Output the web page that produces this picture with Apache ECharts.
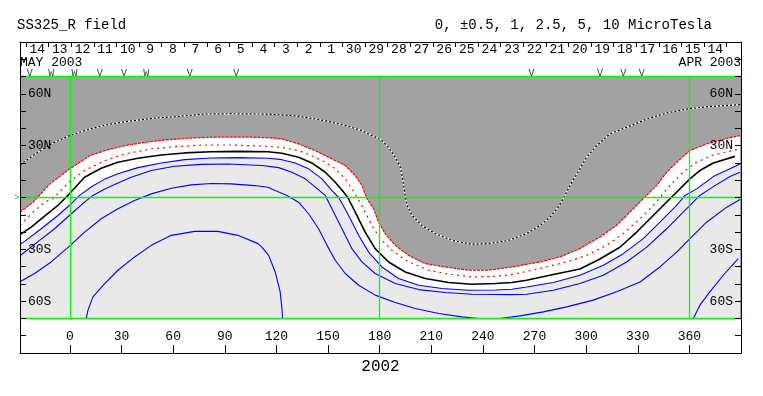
<!DOCTYPE html>
<html><head><meta charset="utf-8">
<script src="https://cdn.jsdelivr.net/npm/echarts@6/dist/echarts.min.js"></script>
<style>html,body{margin:0;padding:0;background:#fff}#c{width:763px;height:396px}</style>
</head><body><div id="c"></div>
<script>
const FONT = '"Liberation Mono", "DejaVu Sans Mono", monospace';

// contour lines, [longitude, latitude]
const cNeg25 = [[-29,18.9],[-21.5,24.2],[-10.9,31.0],[-0.2,35.8],[8.5,38.7],[20.2,41.9],[31.8,43.8],[47.3,45.8],[62.8,46.9],[78.3,48.3],[93.7,48.5],[111.6,48.3],[121.3,47.9],[130.9,47.3],[140.6,45.8],[150.4,44.0],[162.0,41.1],[169.7,38.7],[175.5,35.8],[180.3,33.9],[185.2,29.0],[189.1,23.3],[192.0,17.5],[193.4,10.8],[194.5,3.1],[195.9,-4.6],[198.8,-10.4],[204.6,-16.2],[212.3,-20.9],[222.0,-24.8],[233.6,-27.1],[243.3,-26.7],[255.0,-24.8],[265.4,-20.9],[273.2,-16.2],[279.0,-11.4],[283.8,-5.6],[287.7,1.2],[290.6,6.9],[296.4,16.6],[300.3,23.3],[306.1,30.0],[313.8,36.8],[323.5,40.6],[335.2,45.4],[346.8,48.9],[358.4,51.2],[370.0,52.5],[389.4,53.7]];
const cNeg1 = [[-29,-8.5],[-21.3,-2.7],[-11.6,7.9],[0,16.6],[11.6,24.2],[20.2,27.1],[31.8,30.0],[43.4,31.9],[55.0,33.3],[70.5,34.4],[86.0,35.0],[101.5,35.0],[115.1,34.6],[123.2,33.9],[132.9,31.0],[142.6,27.1],[152.3,22.3],[160.0,18.5],[165.8,12.7],[169.7,6.9],[172.6,-0.7],[176.5,-6.5],[179.4,-14.3],[183.2,-20.9],[189.1,-27.7],[196.8,-33.5],[206.5,-38.3],[218.1,-40.2],[231.7,-42.1],[243.3,-42.1],[256.9,-40.2],[273.2,-37.3],[284.8,-34.4],[296.4,-29.6],[308.0,-22.9],[317.7,-16.2],[325.5,-8.5],[333.2,-0.7],[341.0,6.9],[346.8,14.6],[352.6,20.4],[360.3,27.1],[370.0,31.0],[381.7,34.2],[389.4,35.8]];
const cNeg05 = [[-29,-16.2],[-22.5,-9.4],[-14.7,-2.7],[-9.9,-0.7],[-0.2,9.2],[8.5,15.6],[20.2,21.3],[31.8,25.2],[47.3,28.1],[62.8,29.6],[78.3,30.4],[93.7,30.4],[115.1,29.6],[123.2,29.0],[132.9,27.1],[140.6,24.2],[148.4,20.4],[154.2,16.6],[160.0,10.8],[163.9,5.0],[167.0,0],[171.6,-8.5],[175.5,-16.2],[180.3,-23.8],[187.1,-30.6],[196.8,-37.3],[208.5,-42.1],[220.1,-44.4],[233.6,-46.0],[247.2,-45.6],[256.9,-44.6],[273.2,-41.1],[288.7,-37.3],[300.3,-33.5],[311.9,-27.7],[321.6,-20.9],[331.3,-12.3],[339.0,-4.6],[348.7,6.9],[356.4,14.6],[364.2,20.4],[373.9,24.6],[389.4,28.1]];
const cZero = [[-29,-21.5],[-22.5,-17.1],[-14.7,-10.8],[-7.0,-4.6],[-1.2,1.2],[8.5,11.7],[18.2,16.9],[27.9,20.4],[39.5,22.7],[53.1,24.6],[66.7,25.8],[82.1,26.5],[97.6,26.7],[115.1,26.5],[123.2,25.6],[132.9,23.3],[140.6,20.0],[148.4,14.6],[154.2,8.8],[159.1,3.1],[161.5,0],[165.8,-8.5],[171.6,-20.0],[177.4,-29.6],[185.2,-37.3],[194.9,-43.1],[206.5,-46.9],[220.1,-49.2],[233.6,-50.2],[247.2,-49.8],[256.9,-49.2],[265.4,-47.9],[280.9,-44.6],[296.4,-41.4],[308.0,-35.6],[319.6,-28.8],[329.4,-20.0],[337.1,-12.3],[344.8,-4.6],[354.5,5.0],[360.3,10.8],[366.1,15.6],[373.9,20.0],[386.5,23.8]];
const cPos05 = [[-29,-27.1],[-26.3,-25.4],[-16.7,-18.1],[-7.0,-10.4],[0.8,-3.6],[5.6,1.2],[13.0,6.5],[20.0,10.5],[27.9,13.8],[39.5,17.3],[53.1,20.0],[66.7,21.9],[82.1,22.9],[97.6,23.1],[115.1,22.7],[123.2,21.9],[130.9,20.0],[138.7,16.6],[146.5,10.8],[152.3,4.0],[156.2,0],[161.0,-8.5],[167.8,-21.9],[173.6,-31.6],[181.3,-40.2],[191.0,-46.9],[202.7,-50.8],[216.2,-52.7],[231.7,-53.7],[247.2,-53.5],[256.9,-53.1],[265.4,-51.8],[280.9,-49.2],[296.4,-45.0],[310.0,-39.2],[321.6,-32.5],[333.2,-23.8],[342.9,-14.3],[352.6,-4.6],[357.4,1.2],[364.2,5.0],[373.9,12.1],[383.6,16.7],[389.4,19.4]];
const cPos1 = [[-29,-33.7],[-17.6,-24.8],[-8.9,-18.1],[0.8,-9.4],[8.5,-2.7],[13.4,1.2],[20.0,4.8],[26.0,7.5],[35.6,11.7],[47.3,15.6],[60.9,18.1],[76.3,19.2],[91.8,19.4],[111.6,18.5],[121.3,17.3],[129.0,14.6],[136.8,10.8],[142.6,6.0],[148.4,1.2],[152.3,-6.5],[158.1,-18.1],[163.9,-29.6],[169.7,-37.3],[177.4,-44.0],[189.1,-49.8],[202.7,-53.3],[218.1,-55.0],[233.6,-56.0],[247.2,-56.1],[256.9,-56.2],[265.4,-56.0],[280.9,-53.7],[296.4,-49.8],[310.0,-45.0],[323.5,-37.3],[335.2,-28.7],[346.8,-18.1],[356.4,-8.5],[366.1,1.2],[373.9,6.3],[383.6,12.1],[389.4,14.6]];
const cPos25 = [[-29,-48.8],[-20.5,-44.0],[-10.9,-37.3],[-0.2,-28.1],[8.5,-20.0],[18.2,-12.3],[27.9,-6.5],[37.6,-1.7],[47.3,2.1],[58.9,5.4],[70.5,7.3],[82.1,8.1],[93.7,7.9],[107.3,6.9],[115.1,5.9],[119.3,4.0],[126.1,1.2],[132.9,-2.7],[138.7,-9.4],[144.5,-18.1],[149.4,-27.7],[154.2,-36.3],[160.0,-44.0],[167.8,-50.8],[177.4,-56.5],[189.1,-60.8],[200.7,-64.2],[214.3,-67.1],[227.8,-69.1],[237.5,-70],[249.9,-70],[261.5,-68.5],[275.1,-66.2],[288.7,-63.3],[304.1,-59.4],[317.7,-54.6],[331.3,-48.9],[342.9,-40.2],[352.6,-31.6],[360.3,-23.8],[370.0,-14.3],[381.7,-5.6],[389.4,-1.2]];
const cPos5a = [[9.5,-70],[10.5,-65.2],[13.4,-57.5],[20.2,-49.8],[27.9,-42.1],[37.6,-34.4],[47.3,-27.7],[58.9,-21.9],[72.5,-19.6],[86.0,-19.6],[97.6,-21.9],[109.3,-26.7],[111.6,-28.7],[115.5,-33.5],[119.3,-43.1],[122.2,-54.6],[123.2,-64.2],[123.6,-70]];
const cPos5b = [[362.3,-70],[366.1,-62.3],[371.9,-54.6],[379.7,-45.0],[388.4,-35.4]];

// axes
const xTicks = [0,30,60,90,120,150,180,210,240,270,300,330,360];
const yTickLabels = {'60':'60N','30':'30N','-30':'30S','-60':'60S'};
const dayTickLon = [-25.5,-12.4,0.7,13.9,27.0,40.2,53.3,66.4,79.6,92.7,105.8,119.0,132.1,145.2,158.4,171.5,184.7,197.8,210.9,224.1,237.2,250.3,263.5,276.6,289.7,302.9,316.0,329.2,342.3,355.4,368.6,381.7];
const dayLabelLon = [-19.0,-5.9,7.3,20.4,33.6,46.7,59.8,73.0,86.1,99.2,112.4,125.5,138.7,151.8,164.9,178.1,191.2,204.3,217.5,230.6,243.8,256.9,270.0,283.2,296.3,309.4,322.6,335.7,348.9,362.0,375.1];
const dayLabels = ['14','13','12','11','10','9','8','7','6','5','4','3','2','1','30','29','28','27','26','25','24','23','22','21','20','19','18','17','16','15','14'];
const markLon = [-23.4,-10.9,2.7,17.3,31.4,44.3,69.6,96.7,268.3,308.0,321.6,332.3];
const markType = ['V','W','W','V','V','W','V','V','V','V','V','V'];
const gridLon = [0,180,360];
const gridLat = [70,0,-70];

const X0 = -29, X1 = 390, LATMIN = -70, LATMAX = 70;

function contour(data, color, width, type, z) {
  return {type:'line', data, symbol:'none', silent:true, z: z||4, animation:false,
    lineStyle:{color, width, type: type||'solid'}};
}
function fill(data, color) {
  return {type:'line', data, symbol:'none', silent:true, z:2, animation:false,
    lineStyle:{width:0, opacity:0}, areaStyle:{color, opacity:1, origin:LATMIN}};
}

const greenLines = [];
gridLon.forEach(l => greenLines.push([{coord:[l, LATMIN]},{coord:[l, LATMAX]}]));
gridLat.forEach(l => greenLines.push([{coord:[X0, l]},{coord:[X1, l]}]));

const yAxisCommon = {
  type:'value', min:-90, max:90, interval:10, z:10,
  axisLine:{show:true, onZero:false, lineStyle:{color:'#000', width:1}},
  axisTick:{show:true, inside:true, length:6, lineStyle:{color:'#000'}},
  splitLine:{show:false},
  axisLabel:{inside:true, margin:8, color:'#000', fontFamily:FONT, fontSize:13,
    formatter: v => yTickLabels[String(v)] || ''}
};

const chart = echarts.init(document.getElementById('c'), null, {renderer:'canvas'});
chart.setOption({
  animation:false,
  backgroundColor:'#fff',
  title:[
    {text:'SS325_R field', left:17, top:18, padding:0, textStyle:{fontFamily:FONT, fontSize:14, fontWeight:'normal', color:'#000'}},
    {text:'0, \u00b10.5, 1, 2.5, 5, 10 MicroTesla', right:51, top:18, padding:0, textStyle:{fontFamily:FONT, fontSize:14, fontWeight:'normal', color:'#000'}}
  ],
  grid:{left:20, right:22, top:42, bottom:43, containLabel:false},
  xAxis:[
    {type:'value', min:X0, max:X1, position:'bottom', z:10,
      axisLine:{show:true, onZero:false, lineStyle:{color:'#000'}},
      axisTick:{show:true, inside:true, length:8, customValues:xTicks, lineStyle:{color:'#000'}},
      axisLabel:{show:true, inside:true, margin:10, customValues:xTicks, color:'#000', fontFamily:FONT, fontSize:13},
      splitLine:{show:false},
      name:'2002', nameLocation:'middle', nameGap:6,
      nameTextStyle:{fontFamily:FONT, fontSize:16, color:'#000', verticalAlign:'top'}},
    {type:'value', min:X0, max:X1, position:'top', z:10,
      axisLine:{show:true, onZero:false, lineStyle:{color:'#000'}},
      axisTick:{show:true, inside:true, length:5, customValues:dayTickLon, lineStyle:{color:'#000'}},
      axisLabel:{show:true, inside:true, margin:1, customValues:dayLabelLon, color:'#000', fontFamily:FONT, fontSize:13,
        formatter: v => { const i = dayLabelLon.indexOf(v); return i >= 0 ? dayLabels[i] : ''; }},
      splitLine:{show:false}}
  ],
  yAxis:[
    Object.assign({}, yAxisCommon, {position:'left'}),
    Object.assign({}, yAxisCommon, {position:'right'})
  ],
  graphic:[
    {type:'text', left:20, top:56, z:20, style:{text:'MAY 2003', font:'13px "Liberation Mono", monospace', fill:'#000'}},
    {type:'text', right:22, top:56, z:20, style:{text:'APR 2003', font:'13px "Liberation Mono", monospace', fill:'#000'}},
    {type:'text', left:14, top:193, z:20, style:{text:'>', font:'9px "Liberation Mono", monospace', fill:'#00dd00'}}
  ],
  series:[
    {type:'line', data:[], symbol:'none', silent:true, z:1, animation:false,
      markArea:{silent:true, itemStyle:{color:'#a2a2a2'}, data:[[{coord:[X0, LATMIN]},{coord:[X1, LATMAX]}]]}},
    fill(cNeg1, '#ffffff'),
    fill(cPos05, '#e9e9e9'),
    {type:'line', data:[], symbol:'none', silent:true, z:3, animation:false,
      markLine:{silent:true, symbol:['none','none'], label:{show:false},
        lineStyle:{color:'#00ff00', width:1.3, type:'solid'}, data:greenLines}},
    contour(cNeg25, '#ffffff', 1.2, 'solid'),
    contour(cNeg25, '#000000', 1.2, [2,2]),
    contour(cNeg1, '#ff0000', 1.2, [3,1]),
    contour(cNeg05, '#ff0000', 1.2, [2,4]),
    contour(cZero, '#000000', 1.6, 'solid'),
    contour(cPos05, '#0000ff', 1.1),
    contour(cPos1, '#0000ff', 1.1),
    contour(cPos25, '#0000ff', 1.1),
    contour(cPos5a, '#0000ff', 1.1),
    contour(cPos5b, '#0000ff', 1.1),
    {type:'scatter', data: markLon.map(l => [l, 71.6]), symbolSize:1, silent:true, z:6, animation:false,
      itemStyle:{color:'rgba(0,0,0,0)'},
      label:{show:true, position:'inside', formatter: p => markType[p.dataIndex], color:'#000', fontFamily:FONT, fontSize:10}}
  ]
});
</script>
</body></html>
